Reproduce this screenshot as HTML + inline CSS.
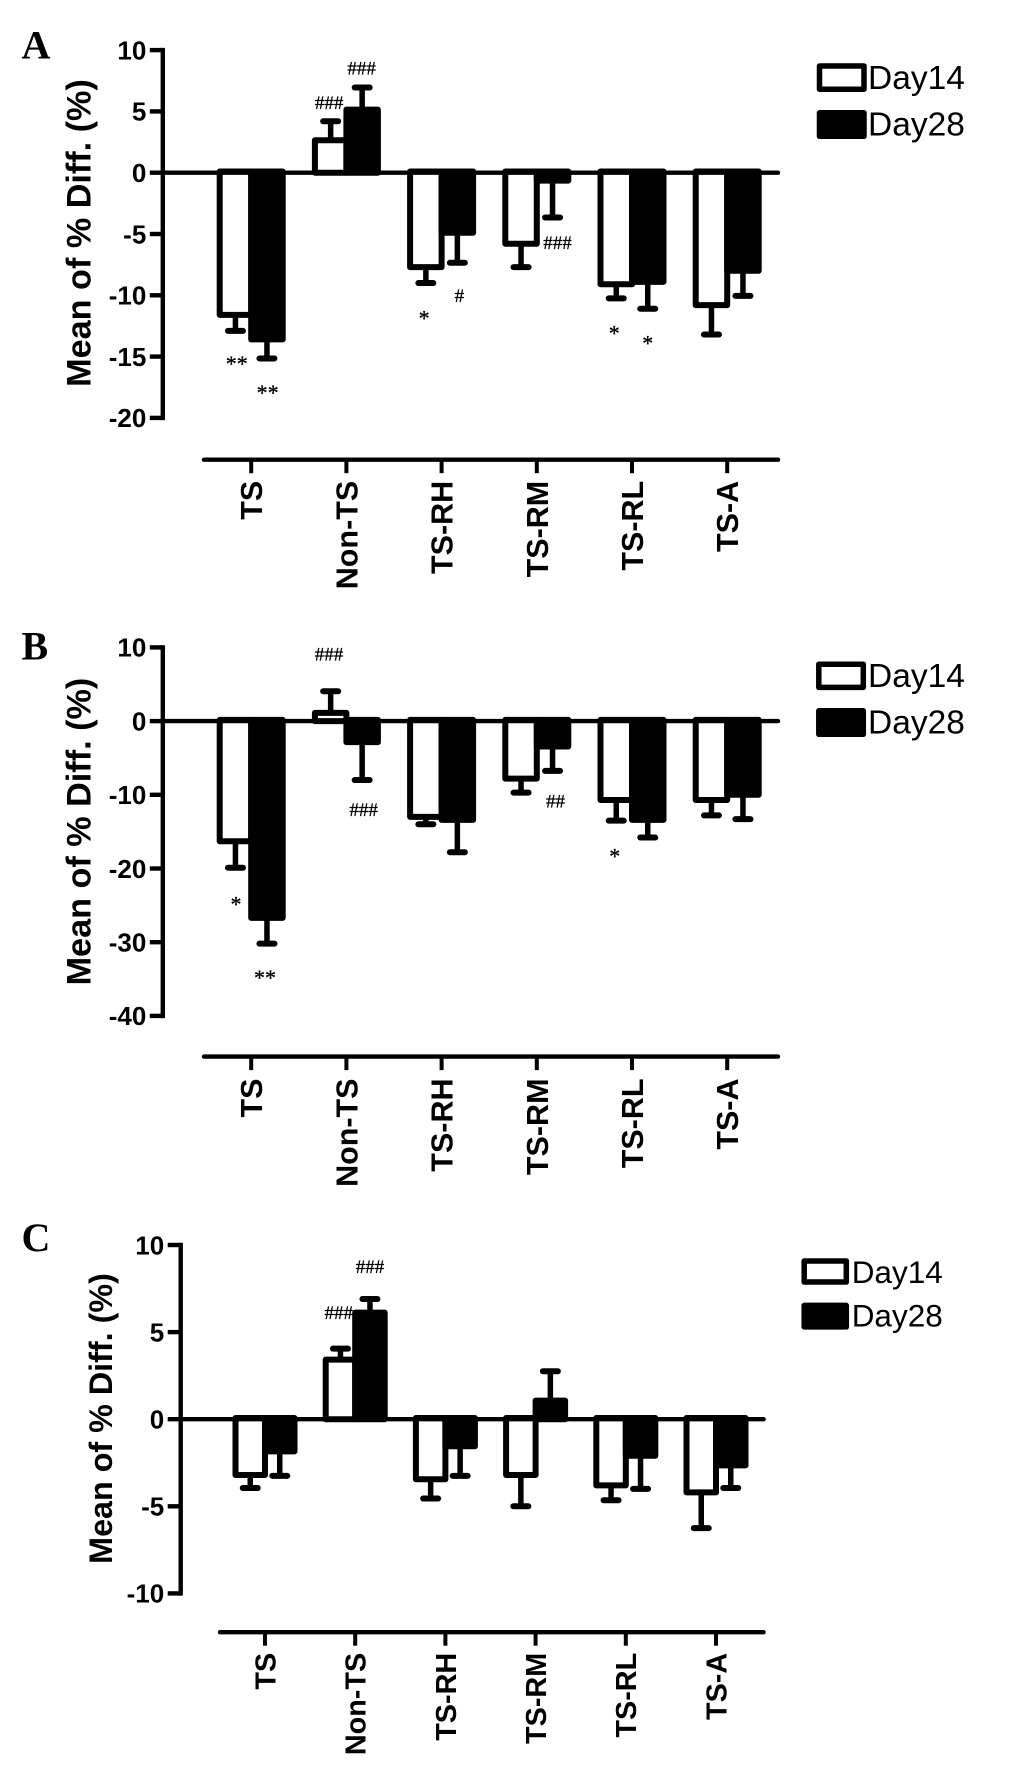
<!DOCTYPE html>
<html lang="en">
<head>
<meta charset="utf-8">
<title>Mean of % Diff. by group, Day14 and Day28</title>
<style>
  html, body { margin: 0; padding: 0; background: #fff; }
  svg { display: block; }
  text { fill: #000; font-family: "Liberation Sans", sans-serif; }
  .letter { font-family: "Liberation Serif", serif; font-weight: bold; font-size: 40px; }
  .title { font-weight: bold; font-size: 34.2px; text-anchor: middle; }
  .title-c { font-size: 32.3px; }
  .legend-label { font-size: 33.5px; }
  .legend-label-c { font-size: 31.5px; }
</style>
</head>
<body>
<svg id="figure" xmlns="http://www.w3.org/2000/svg" width="1033" height="1768" viewBox="0 0 1033 1768">
  <rect x="0" y="0" width="1033" height="1768" fill="#fff"/>

  <text class="letter" x="21.5" y="58.5">A</text>
  <text class="letter" x="21.5" y="659.6">B</text>
  <text class="letter" x="21.5" y="1251">C</text>

  <text class="title" transform="translate(90.5,233) rotate(-90)">Mean of % Diff. (%)</text>
  <text class="title" transform="translate(90.5,831.6) rotate(-90)">Mean of % Diff. (%)</text>
  <text class="title title-c" transform="translate(112,1418.5) rotate(-90)">Mean of % Diff. (%)</text>

  <g>
    <rect x="819.5" y="66" width="44.5" height="23.2" fill="#fff" stroke="#000" stroke-width="5.5" stroke-linejoin="round"/>
    <text class="legend-label" x="868" y="89">Day14</text>
    <rect x="819.5" y="112.8" width="44.5" height="23.5" fill="#000" stroke="#000" stroke-width="5.5" stroke-linejoin="round"/>
    <text class="legend-label" x="868" y="135.7">Day28</text>
  </g>
  <g>
    <rect x="818.8" y="664.2" width="44.5" height="23.2" fill="#fff" stroke="#000" stroke-width="5.5" stroke-linejoin="round"/>
    <text class="legend-label" x="868" y="686.8">Day14</text>
    <rect x="818.8" y="710.8" width="44.5" height="23.5" fill="#000" stroke="#000" stroke-width="5.5" stroke-linejoin="round"/>
    <text class="legend-label" x="868" y="733.5">Day28</text>
  </g>
  <g>
    <rect x="804.2" y="1261" width="42.1" height="21" fill="#fff" stroke="#000" stroke-width="5.5" stroke-linejoin="round"/>
    <text class="legend-label legend-label-c" x="851.7" y="1283">Day14</text>
    <rect x="804.2" y="1305.4" width="42.1" height="21.5" fill="#000" stroke="#000" stroke-width="5.5" stroke-linejoin="round"/>
    <text class="legend-label legend-label-c" x="851.7" y="1326.7">Day28</text>
  </g>
</svg>

<script>
const categories = ['TS', 'Non-TS', 'TS-RH', 'TS-RM', 'TS-RL', 'TS-A'];

const yTicksA = [10, 5, 0, -5, -10, -15, -20];
const day14A = [-11.6, 2.55, -7.7, -5.8, -9.1, -10.8];
const day28A = [-13.6, 5.05, -4.9, -0.65, -8.9, -8.0];
const err14A = [1.3, 1.65, 1.3, 1.9, 1.15, 2.4];
const err28A = [1.55, 1.9, 2.45, 3.0, 2.2, 2.05];

const yTicksB = [10, 0, -10, -20, -30, -40];
const day14B = [-16.3, 0.95, -13.0, -7.8, -10.7, -10.7];
const day28B = [-26.7, -2.85, -13.4, -3.45, -13.4, -10.0];
const err14B = [3.6, 3.1, 1.0, 1.9, 2.8, 2.1];
const err28B = [3.5, 5.15, 4.4, 3.3, 2.4, 3.3];

const yTicksC = [10, 5, 0, -5, -10];
const day14C = [-3.2, 3.35, -3.45, -3.2, -3.8, -4.2];
const day28C = [-1.85, 6.05, -1.55, 1.0, -2.1, -2.65];
const err14C = [0.75, 0.7, 1.1, 1.8, 0.85, 2.05];
const err28C = [1.4, 0.85, 1.7, 1.75, 1.9, 1.3];

const SVG_NS = 'http://www.w3.org/2000/svg';
const figure = document.getElementById('figure');

function make(parent, tag, attrs, content) {
  const node = document.createElementNS(SVG_NS, tag);
  for (const key in attrs) node.setAttribute(key, attrs[key]);
  if (content !== undefined) node.textContent = content;
  parent.appendChild(node);
  return node;
}

function drawPanel(p) {
  const g = make(figure, 'g', {});
  
  

  const yScale = function (v) { return p.zeroY - v * p.unit; };
  const xScale = function (i) { return p.firstX + i * p.pitch; };
  const top = yScale(p.yTicks[0]);
  const bottom = yScale(p.yTicks[p.yTicks.length - 1]);

  function drawSeries(values, errors, side, fill, seriesName) {
    values.forEach(function (v, i) {
      const cx = xScale(i) + side * p.half;
      const dir = v >= 0 ? 1 : -1;
      const capY = yScale(v + dir * errors[i]);

      const stem = make(g, 'line', { x1: cx, x2: cx, y1: yScale(v), y2: capY, stroke: '#000', 'stroke-width': 5.5 });
      
      

      const cap = make(g, 'line', { x1: cx - 7.5, x2: cx + 7.5, y1: capY, y2: capY, stroke: '#000', 'stroke-width': 6, 'stroke-linecap': 'round' });
      
      

      const x0 = xScale(i) + (side < 0 ? -2 * p.half : 0);
      const yA = Math.min(yScale(0), yScale(v));
      const yB = Math.max(yScale(0), yScale(v));
      const bar = make(g, 'rect', { x: x0, y: yA - 1.2, width: 2 * p.half, height: yB - yA + 1.2, fill: fill, stroke: '#000', 'stroke-width': 6, 'stroke-linejoin': 'round' });
      
      
    });
  }
  drawSeries(p.day14, p.err14, -1, '#fff', 'day14');
  drawSeries(p.day28, p.err28, 1, '#000', 'day28');

  const zero = make(g, 'line', { x1: p.axisX, x2: p.xEnd, y1: yScale(0), y2: yScale(0), stroke: '#000', 'stroke-width': 4.4, 'stroke-linecap': 'round' });
  
  

  const yAxis = make(g, 'line', { x1: p.axisX, x2: p.axisX, y1: top - 2.2, y2: bottom + 2.2, stroke: '#000', 'stroke-width': 4.4 });
  
  

  p.yTicks.forEach(function (t) {
    const y = yScale(t);
    const tick = make(g, 'line', { x1: p.axisX - 13, x2: p.axisX, y1: y, y2: y, stroke: '#000', 'stroke-width': 4.4 });
    
    

    const label = make(g, 'text', {
      x: p.axisX - 16.5, y: y + 9.3,
      'text-anchor': 'end', 'font-weight': 'bold', 'font-size': 26
    }, String(t));
    
    
  });

  const xAxis = make(g, 'line', { x1: p.xStart, x2: p.xEnd, y1: p.xAxisY, y2: p.xAxisY, stroke: '#000', 'stroke-width': 4.4, 'stroke-linecap': 'round' });
  
  

  categories.forEach(function (name, i) {
    const x = xScale(i);
    const tick = make(g, 'line', { x1: x, x2: x, y1: p.xAxisY, y2: p.xAxisY + 13.5, stroke: '#000', 'stroke-width': 4 });
    
    

    const label = make(g, 'text', {
      transform: 'translate(' + (x + p.labelSize * 0.36) + ',' + p.labelTop + ') rotate(-90)',
      'text-anchor': 'end', 'font-weight': 'bold', 'font-size': p.labelSize
    }, name);
    
    
  });

  /* Significance marks: group index, side, text, y value, small x nudge. */
  p.annotate = function (i, side, mark, value, dx) {
    const isStar = mark.charAt(0) === '*';
    const size = isStar ? 22 : 19;
    const y = yScale(value) + (isStar ? 9.8 : 6.2);
    const t = make(g, 'text', {
      x: xScale(i) + side * p.half + dx, y: y, 'text-anchor': 'middle',
      style: 'font-family:"Liberation Serif",serif;stroke:#000;stroke-width:0.3px', 'font-size': size
    }, mark);
    
    
  };
  return p;
}

const panelA = drawPanel({
  id: 'a', yTicks: yTicksA, day14: day14A, day28: day28A, err14: err14A, err28: err28A,
  zeroY: 172.7, unit: 12.26, axisX: 162.8, firstX: 251.2, pitch: 95.2, half: 15.75,
  xAxisY: 459.7, xStart: 204, xEnd: 778, labelTop: 480.8, labelSize: 30.5
});
const panelB = drawPanel({
  id: 'b', yTicks: yTicksB, day14: day14B, day28: day28B, err14: err14B, err28: err28B,
  zeroY: 721.1, unit: 7.37, axisX: 162.8, firstX: 251.2, pitch: 95.2, half: 15.75,
  xAxisY: 1056.6, xStart: 204, xEnd: 778, labelTop: 1078.5, labelSize: 30.5
});
const panelC = drawPanel({
  id: 'c', yTicks: yTicksC, day14: day14C, day28: day28C, err14: err14C, err28: err28C,
  zeroY: 1419.2, unit: 17.42, axisX: 180.7, firstX: 265, pitch: 90.2, half: 14.75,
  xAxisY: 1632.2, xStart: 220, xEnd: 763.6, labelTop: 1652.8, labelSize: 28.8
});

panelA.annotate(0, -1, '**', -15.38, 1.3);
panelA.annotate(0, 1, '**', -17.75, 0.7);
panelA.annotate(1, -1, '###', 5.69, -1.5);
panelA.annotate(1, 1, '###', 8.5, -0.5);
panelA.annotate(2, -1, '*', -11.68, -1.7);
panelA.annotate(2, 1, '#', -10.03, 2);
panelA.annotate(3, 1, '###', -5.72, 5);
panelA.annotate(4, -1, '*', -12.9, -2);
panelA.annotate(4, 1, '*', -13.7, 0);

panelB.annotate(0, -1, '*', -24.5, 0.5);
panelB.annotate(0, 1, '**', -34.5, -2);
panelB.annotate(1, -1, '###', 9.06, -1.6);
panelB.annotate(1, 1, '###', -12.06, 1.5);
panelB.annotate(3, 1, '##', -10.9, 3);
panelB.annotate(4, -1, '*', -18, -1.5);

panelC.annotate(1, -1, '###', 6.11, -1.7);
panelC.annotate(1, 1, '###', 8.75, 0);
</script>
</body>
</html>
